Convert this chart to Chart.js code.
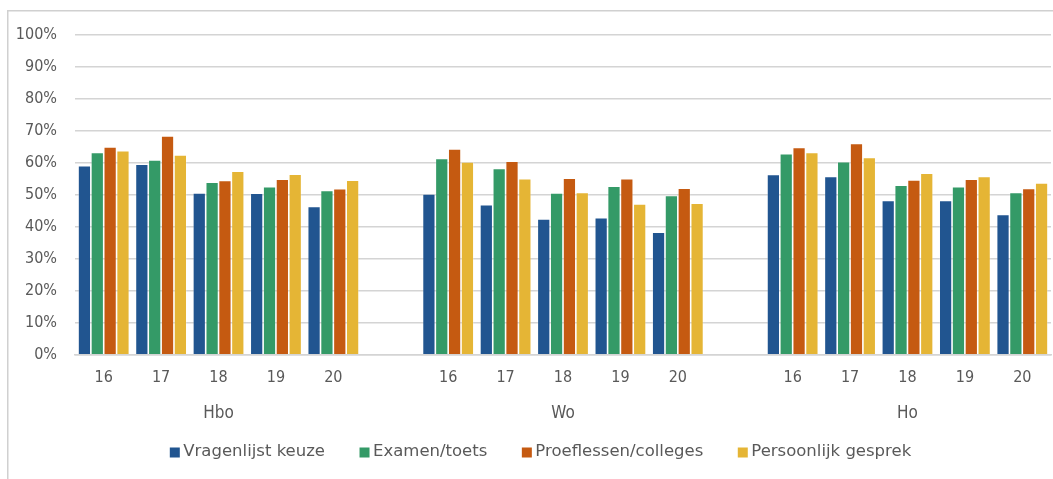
<!DOCTYPE html>
<html>
<head>
<meta charset="utf-8">
<script src="https://cdn.jsdelivr.net/npm/chart.js@4/dist/chart.umd.min.js"></script>
<style>
  html, body { margin: 0; padding: 0; background: #fff; overflow: hidden; }
  #wrap { position: absolute; left: 0; top: 0; width: 1053px; height: 479px; }
</style>
</head>
<body>
<div id="wrap"><canvas id="chart"></canvas></div>
<script>
// years per group, blank slot between groups
const categories = ['16', '17', '18', '19', '20', '',
                    '16', '17', '18', '19', '20', '',
                    '16', '17', '18', '19', '20'];
const groupLabels = ['', '', 'Hbo', '', '', '',
                     '', '', 'Wo', '', '', '',
                     '', '', 'Ho', '', ''];
const yTicks = [0, 10, 20, 30, 40, 50, 60, 70, 80, 90, 100];

const vragenlijst = [59.1, 59.6, 50.6, 50.5, 46.4, null, 50.3, 46.9, 42.5, 42.9, 38.3, null, 56.4, 55.8, 48.3, 48.3, 43.9];
const examen      = [63.3, 60.9, 54.0, 52.6, 51.4, null, 61.4, 58.3, 50.6, 52.7, 49.8, null, 62.9, 60.4, 53.0, 52.6, 50.8];
const proeflessen = [65.0, 68.4, 54.5, 54.9, 51.9, null, 64.4, 60.5, 55.2, 55.1, 52.1, null, 64.8, 66.1, 54.7, 54.9, 52.0];
const gesprek     = [63.8, 62.5, 57.4, 56.5, 54.6, null, 60.3, 55.1, 50.8, 47.2, 47.4, null, 63.3, 61.7, 56.8, 55.8, 53.7];

const seriesNames = ['Vragenlijst keuze', 'Examen/toets', 'Proeflessen/colleges', 'Persoonlijk gesprek'];
const colors = ['#215590', '#349A67', '#C55A11', '#E5B535'];

const tickFont = { family: "'DejaVu Sans Condensed', 'Liberation Sans Narrow', 'DejaVu Sans', sans-serif", size: 16 };
const textColor = '#595959';

const datasets = [vragenlijst, examen, proeflessen, gesprek].map((vals, i) => ({
    label: seriesNames[i],
    data: vals,
    backgroundColor: colors[i],
    borderColor: 'rgba(255,255,255,0.3)',
    borderWidth: 0.8,
    barPercentage: 1.0,
    categoryPercentage: 0.895,
}));

// chart frame: only left and top edges show in the crop
const frame = {
    id: 'frame',
    beforeDraw(chart) {
        const ctx = chart.ctx;
        ctx.save();
        ctx.strokeStyle = '#d0d0d0';
        ctx.lineWidth = 1.5;
        ctx.beginPath();
        ctx.moveTo(chart.width, 10.75);
        ctx.lineTo(7.75, 10.75);
        ctx.lineTo(7.75, chart.height);
        ctx.stroke();
        ctx.restore();
    }
};

// legend drawn under the axes, excel style (small square, tight gap)
const bottomLegend = {
    id: 'bottomLegend',
    afterDraw(chart) {
        const ctx = chart.ctx;
        const items = chart.data.datasets;
        const box = 10, textGap = 3.5, itemGap = 34.5;
        const cx = 540.5, cy = 452;
        ctx.save();
        ctx.font = "16.5px 'DejaVu Sans', sans-serif";
        ctx.textBaseline = 'middle';
        ctx.textAlign = 'left';
        const widths = items.map(d => ctx.measureText(d.label).width);
        let total = widths.reduce((a, w) => a + box + textGap + w, 0) + itemGap * (items.length - 1);
        let x = cx - total / 2;
        items.forEach((d, i) => {
            ctx.fillStyle = d.backgroundColor;
            ctx.fillRect(x, cy - box / 2 + 0.5, box, box);
            ctx.fillStyle = textColor;
            ctx.fillText(d.label, x + box + textGap, cy);
            x += box + textGap + widths[i] + itemGap;
        });
        ctx.restore();
    }
};

new Chart(document.getElementById('chart'), {
    type: 'bar',
    data: { labels: categories, datasets: datasets },
    options: {
        responsive: true,
        maintainAspectRatio: false,
        animation: false,
        layout: { padding: { left: 16, right: 2, top: 35, bottom: 55.6 } },
        plugins: {
            tooltip: { enabled: false },
            legend: { display: false }
        },
        scales: {
            y: {
                min: 0,
                max: 100,
                afterFit: (scale) => { scale.width = 59; },
                afterBuildTicks: (scale) => { scale.ticks = yTicks.map(v => ({ value: v })); },
                ticks: {
                    padding: 18,
                    color: textColor,
                    font: tickFont,
                    callback: (v) => v + '%'
                },
                grid: { color: '#d4d4d4', lineWidth: 1.5, drawTicks: false },
                border: { display: false }
            },
            x: {
                afterFit: (scale) => { scale.height = 32.2; },
                ticks: { padding: 13, color: textColor, font: tickFont, autoSkip: false, maxRotation: 0 },
                grid: { display: false, drawTicks: false },
                border: { display: true, color: '#d4d4d4', width: 1.5 }
            },
            x2: {
                type: 'category',
                labels: groupLabels,
                position: 'bottom',
                afterFit: (scale) => { scale.height = 36.4; },
                ticks: { padding: 16, color: textColor, font: { family: "'DejaVu Sans Condensed', 'DejaVu Sans', sans-serif", size: 17 }, autoSkip: false, maxRotation: 0 },
                grid: { display: false, drawTicks: false },
                border: { display: false }
            }
        }
    },
    plugins: [frame, bottomLegend]
});
</script>
</body>
</html>
